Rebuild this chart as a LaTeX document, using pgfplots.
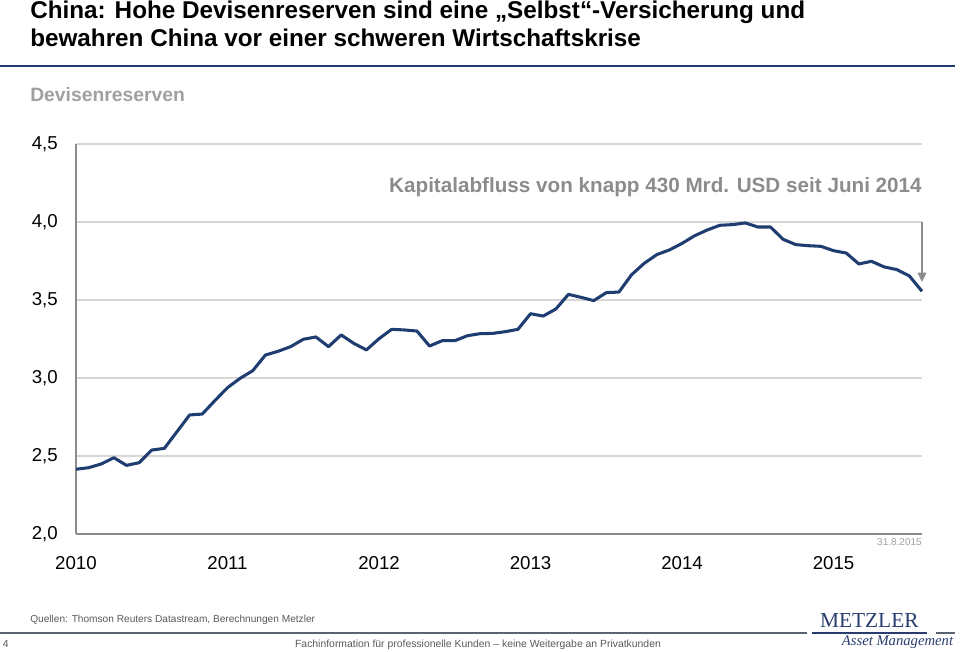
\documentclass[border=0pt]{standalone}
\usepackage{pgfplots}
\pgfplotsset{compat=1.18}
\usepackage{fontspec}
\setmainfont{Liberation Sans}
\newfontfamily\seriffont{Liberation Serif}
\usetikzlibrary{arrows.meta}
\definecolor{serie}{RGB}{31,61,112}
\definecolor{axgray}{RGB}{140,140,140}
\definecolor{gridgray}{RGB}{215,215,215}
\definecolor{anngray}{RGB}{140,140,140}
\definecolor{subgray}{RGB}{160,160,160}
\definecolor{footgray}{RGB}{90,100,112}
\definecolor{logoblue}{RGB}{40,60,110}
\begin{document}
\begin{tikzpicture}
\path[use as bounding box] (0,0) rectangle (720pt,489pt);
% title
\node[anchor=base west,inner sep=0pt,font=\fontsize{18.2pt}{20pt}\selectfont\bfseries] at (22.5pt,475.1pt) {China: Hohe Devisenreserven sind eine „Selbst“-Versicherung und};
\node[anchor=base west,inner sep=0pt,font=\fontsize{18.2pt}{20pt}\selectfont\bfseries] at (22.5pt,453.75pt) {bewahren China vor einer schweren Wirtschaftskrise};
\draw[serie,line width=2.2pt] (0pt,439.5pt) -- (716pt,439.5pt);
\node[anchor=base west,inner sep=0pt,text=subgray,font=\fontsize{14.5pt}{16pt}\selectfont\bfseries] at (22.5pt,412.9pt) {Devisenreserven};
\begin{axis}[
  at={(57pt,88.5pt)}, anchor=south west,
  scale only axis, width=634.5pt, height=292.5pt,
  xmin=0, xmax=67, ymin=2, ymax=4.5,
  axis x line=bottom, axis y line=left,
  axis line style={axgray,line width=2pt,-},
  xtick={0,12,24,36,48,60},
  xticklabels={2010,2011,2012,2013,2014,2015},
  ytick={2,2.5,3,3.5,4,4.5},
  yticklabels={{2,0},{2,5},{3,0},{3,5},{4,0},{4,5}},
  major tick length=0pt,
  ymajorgrids, grid style={gridgray,line width=0.8pt},
  tick label style={font=\fontsize{14pt}{16pt}\selectfont},
  yticklabel style={anchor=east,inner sep=0pt,xshift=-13.5pt},
  xticklabel style={anchor=north,inner sep=0pt,yshift=-16.5pt},
  clip=false,
]
\addplot[serie,line width=2.3pt,line join=round] coordinates {
(0,2.415)(1,2.425)(2,2.449)(3,2.489)(4,2.440)(5,2.457)(6,2.538)(7,2.549)
(8,2.656)(9,2.763)(10,2.769)(11,2.855)(12,2.938)(13,2.998)(14,3.047)(15,3.147)
(16,3.171)(17,3.201)(18,3.248)(19,3.263)(20,3.201)(21,3.276)(22,3.222)(23,3.180)
(24,3.252)(25,3.312)(26,3.308)(27,3.301)(28,3.205)(29,3.239)(30,3.239)(31,3.271)
(32,3.284)(33,3.286)(34,3.297)(35,3.312)(36,3.412)(37,3.397)(38,3.442)(39,3.536)
(40,3.517)(41,3.496)(42,3.547)(43,3.551)(44,3.662)(45,3.735)(46,3.791)(47,3.821)
(48,3.863)(49,3.912)(50,3.949)(51,3.979)(52,3.983)(53,3.994)(54,3.968)(55,3.968)
(56,3.889)(57,3.855)(58,3.848)(59,3.844)(60,3.816)(61,3.801)(62,3.731)(63,3.748)
(64,3.712)(65,3.695)(66,3.654)(67,3.556)
};
\draw[anngray,line width=0.9pt,-{Triangle[length=7pt,width=6.5pt]}] (axis cs:67,4.0) -- (axis cs:67,3.615);
\node[anchor=base east,inner sep=0pt,text=anngray,font=\fontsize{15.5pt}{17pt}\selectfont\bfseries] at (axis cs:67,4.19) {Kapitalabfluss von knapp 430 Mrd. USD seit Juni 2014};
\node[anchor=north east,inner sep=0pt,text=subgray,font=\fontsize{7.5pt}{9pt}\selectfont] at (axis cs:67,1.97) {31.8.2015};
\end{axis}
% footer
\node[anchor=base west,inner sep=0pt,text=black!65,font=\fontsize{7.6pt}{9pt}\selectfont] at (22.5pt,21.8pt) {Quellen: Thomson Reuters Datastream, Berechnungen Metzler};
\draw[footgray,line width=1.3pt] (0pt,14.3pt) -- (605pt,14.3pt);
\draw[footgray,line width=1.3pt] (702pt,14.3pt) -- (716pt,14.3pt);
\draw[logoblue,line width=1.3pt] (609pt,14.3pt) -- (695pt,14.3pt);
\node[anchor=base west,inner sep=0pt,text=black!65,font=\fontsize{7.8pt}{9pt}\selectfont] at (2pt,3pt) {4};
\node[anchor=base,inner sep=0pt,text=black!65,font=\fontsize{7.8pt}{9pt}\selectfont] at (358.5pt,3pt) {Fachinformation für professionelle Kunden – keine Weitergabe an Privatkunden};
\node[anchor=base,inner sep=0pt,text=logoblue,font=\seriffont\fontsize{16pt}{18pt}\selectfont] at (652pt,18pt) {METZLER};
\node[anchor=base east,inner sep=0pt,text=logoblue,font=\seriffont\itshape\fontsize{11pt}{12pt}\selectfont] at (715pt,4.5pt) {Asset Management};
\end{tikzpicture}
\end{document}
